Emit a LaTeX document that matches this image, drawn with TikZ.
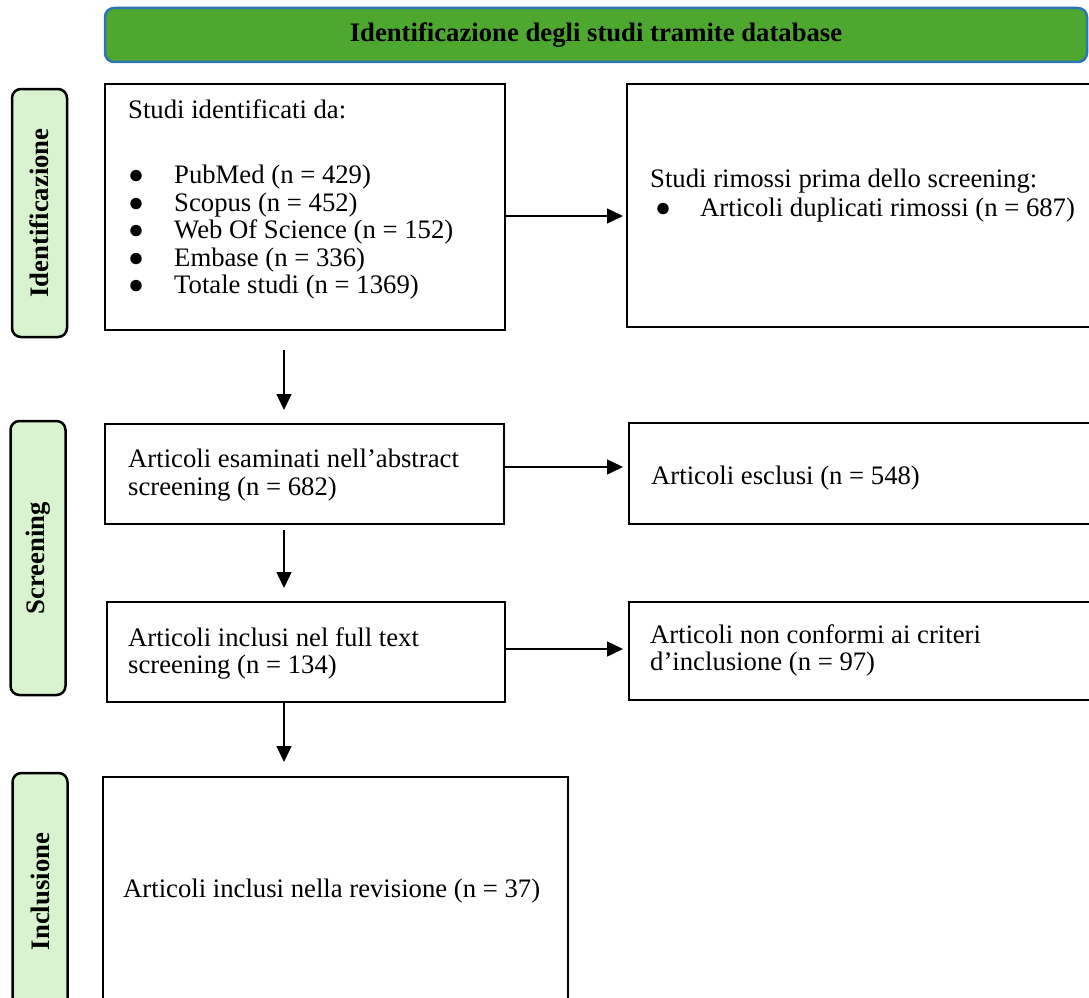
\documentclass[tikz,border=0pt]{standalone}
\usepackage{fontspec}
\setmainfont{Liberation Serif}
\usepackage{tikz}
\usetikzlibrary{arrows.meta,positioning}

\definecolor{hdrgreen}{HTML}{4EA72E}
\definecolor{hdrblue}{HTML}{2E75B6}
\definecolor{phasegreen}{HTML}{D9F2D0}

\newcommand{\itm}[1][46pt]{\makebox[#1][l]{{\fontsize{26.5}{27.5}\selectfont ●}}}

\begin{document}
\begin{tikzpicture}[x=1pt, y=-1pt,
    every node/.style={font=\fontsize{26.7}{27.5}\selectfont},
    box/.style={draw, line width=2.8pt, anchor=north west, outer sep=0pt, inner sep=0pt},
    txt/.style={align=left, inner sep=0pt},
    phase/.style={draw, line width=2.5pt, rounded corners=9pt, fill=phasegreen, rotate=90,
        minimum height=55pt, font=\fontsize{26.7}{27.5}\selectfont\bfseries},
    arr/.style={-{Triangle[length=16pt,width=15pt]}, line width=1.5pt},
  ]
  \path[use as bounding box, clip] (0,0) rectangle (1089,998);

  % header
  \node[draw=hdrblue, fill=hdrgreen, line width=2.5pt, rounded corners=9pt,
        minimum width=982pt, minimum height=54pt,
        font=\fontsize{26.7}{27.5}\selectfont\bfseries] (header) at (596,35)
        {Identificazione degli studi tramite database};

  % phases
  \node[phase, minimum width=248pt] (p-ident) at (39.5,213) {Identificazione};
  \node[phase, minimum width=274pt] (p-screen) at (38,558) {Screening};
  \node[phase, minimum width=237pt] (p-incl) at (40,891.5) {Inclusione};

  % identification
  \node[box, minimum width=400pt, minimum height=246pt] (ident) at (105,84) {};
  \node[txt, below right=15pt and 23pt of ident.north west] (ident-t)
    {Studi identificati da:\\[38pt]
     \itm PubMed (n = 429)\\
     \itm Scopus (n = 452)\\
     \itm Web Of Science (n = 152)\\
     \itm Embase (n = 336)\\
     \itm Totale studi (n = 1369)};
  \node[box, minimum width=473pt, minimum height=243pt] (removed) at (627,84) {};
  \node[txt, below right=85pt and 23pt of removed.north west] (removed-t)
    {Studi rimossi prima dello screening:\\[1.5pt]
     \hspace{5pt}\itm[45pt]Articoli duplicati rimossi (n = 687)};

  % screening
  \node[box, minimum width=399pt, minimum height=100pt] (screened) at (105,424) {};
  \node[txt, below right=25pt and 23pt of screened.north west] (screened-t)
    {Articoli esaminati nell’abstract\\ screening (n = 682)};
  \node[box, minimum width=471pt, minimum height=101pt] (excluded) at (629,423) {};
  \node[txt, below right=43pt and 22pt of excluded.north west] (excluded-t)
    {Articoli esclusi (n = 548)};
  \node[box, minimum width=398pt, minimum height=100pt] (fulltext) at (107,602) {};
  \node[txt, below right=25pt and 21pt of fulltext.north west] (fulltext-t)
    {Articoli inclusi nel full text\\ screening (n = 134)};
  \node[box, minimum width=471pt, minimum height=98pt] (nonconf) at (629,602) {};
  \node[txt, below right=22pt and 21pt of nonconf.north west] (nonconf-t)
    {Articoli non conformi ai criteri\\ d’inclusione (n = 97)};

  % inclusion
  \node[box, minimum width=465pt, minimum height=233pt] (included) at (103,777) {};
  \node[txt, below right=102pt and 20pt of included.north west] (included-t)
    {Articoli inclusi nella revisione (n = 37)};

  % arrows
  \coordinate (col) at (284,0);
  \draw[arr, shorten >=4pt] ([yshift=-9pt]ident.east) -- ([yshift=-9pt]ident.east -| removed.west);
  \draw[arr, shorten >=6pt] ([yshift=7pt]screened.east) -- ([yshift=7pt]screened.east -| excluded.west);
  \draw[arr, shorten >=6pt] ([yshift=3pt]fulltext.east) -- ([yshift=3pt]fulltext.east -| nonconf.west);
  \draw[arr, shorten <=20pt, shorten >=14pt] (ident.south -| col) -- (screened.north -| col);
  \draw[arr, shorten <=6pt, shorten >=14pt] (screened.south -| col) -- (fulltext.north -| col);
  \draw[arr, shorten <=1pt, shorten >=15pt] (fulltext.south -| col) -- (included.north -| col);
\end{tikzpicture}
\end{document}
